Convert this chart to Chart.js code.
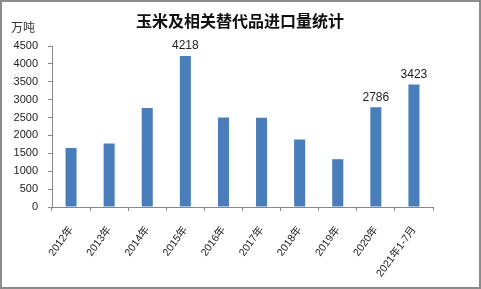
<!DOCTYPE html>
<html><head><meta charset="utf-8">
<script src="https://cdn.jsdelivr.net/npm/chart.js@4/dist/chart.umd.min.js"></script>
<style>html,body{margin:0;padding:0;background:#fff}#c{display:block}</style>
</head><body>
<canvas id="c" width="481" height="289"></canvas>
<script>
const categories = ['2012年','2013年','2014年','2015年','2016年','2017年','2018年','2019年','2020年','2021年1-7月'];
const imports = [1652, 1775, 2764, 4218, 2503, 2492, 1887, 1336, 2786, 3423];
const labelledIndexes = [3, 8, 9];
const titleText = '玉米及相关替代品进口量统计';
const unitText = '万吨';

const FONT = '"Liberation Sans", "Noto Sans CJK SC", sans-serif';

const framePlugin = {
  id: 'frame',
  beforeDraw(chart) {
    const ctx = chart.ctx;
    ctx.save();
    ctx.fillStyle = '#fff';
    ctx.fillRect(0, 0, chart.width, chart.height);
    ctx.restore();
  },
  afterDraw(chart) {
    const ctx = chart.ctx;
    ctx.save();
    ctx.strokeStyle = '#8c8c8c';
    ctx.lineWidth = 2;
    ctx.strokeRect(1, 1, chart.width - 2, chart.height - 2);
    ctx.fillStyle = '#111';
    ctx.font = 'bold 16px "Noto Sans CJK SC", serif';
    ctx.textAlign = 'center';
    ctx.textBaseline = 'middle';
    ctx.fillText(titleText, 240, 21);
    ctx.fillStyle = '#333';
    ctx.font = '12px "Noto Sans CJK SC", sans-serif';
    ctx.textAlign = 'left';
    ctx.fillText(unitText, 11, 27);
    const meta = chart.getDatasetMeta(0);
    ctx.font = '12px ' + FONT;
    ctx.fillStyle = '#222';
    ctx.textAlign = 'center';
    ctx.textBaseline = 'bottom';
    labelledIndexes.forEach(i => {
      const el = meta.data[i];
      ctx.fillText(String(imports[i]), el.x, el.y - 4);
    });
    ctx.restore();
  }
};

new Chart(document.getElementById('c'), {
  type: 'bar',
  data: {
    labels: categories,
    datasets: [{
      data: imports,
      backgroundColor: '#4A7EBB',
      borderWidth: 0,
      categoryPercentage: 1,
      barPercentage: 0.29
    }]
  },
  options: {
    responsive: false,
    animation: false,
    layout: { padding: { left: 0, right: 48, top: 46, bottom: 0 } },
    plugins: {
      legend: { display: false },
      tooltip: { enabled: false },
      title: { display: false }
    },
    scales: {
      x: {
        grid: { drawOnChartArea: false, drawTicks: true, tickLength: 4, color: '#888' },
        border: { color: '#888', width: 1 },
        ticks: {
          color: '#222',
          font: { family: FONT, size: 10.5 },
          minRotation: 54, maxRotation: 54,
          padding: 13
        },
        afterFit(s) { s.height = 82; }
      },
      y: {
        min: 0, max: 4500,
        grid: { drawOnChartArea: false, drawTicks: true, tickLength: 4, color: '#888' },
        border: { color: '#888', width: 1 },
        ticks: {
          stepSize: 500,
          color: '#222',
          font: { family: FONT, size: 11 },
          padding: 10,
          callback: v => String(v)
        },
        afterFit(s) { s.width = 52; }
      }
    }
  },
  plugins: [framePlugin]
});
</script>
</body></html>
